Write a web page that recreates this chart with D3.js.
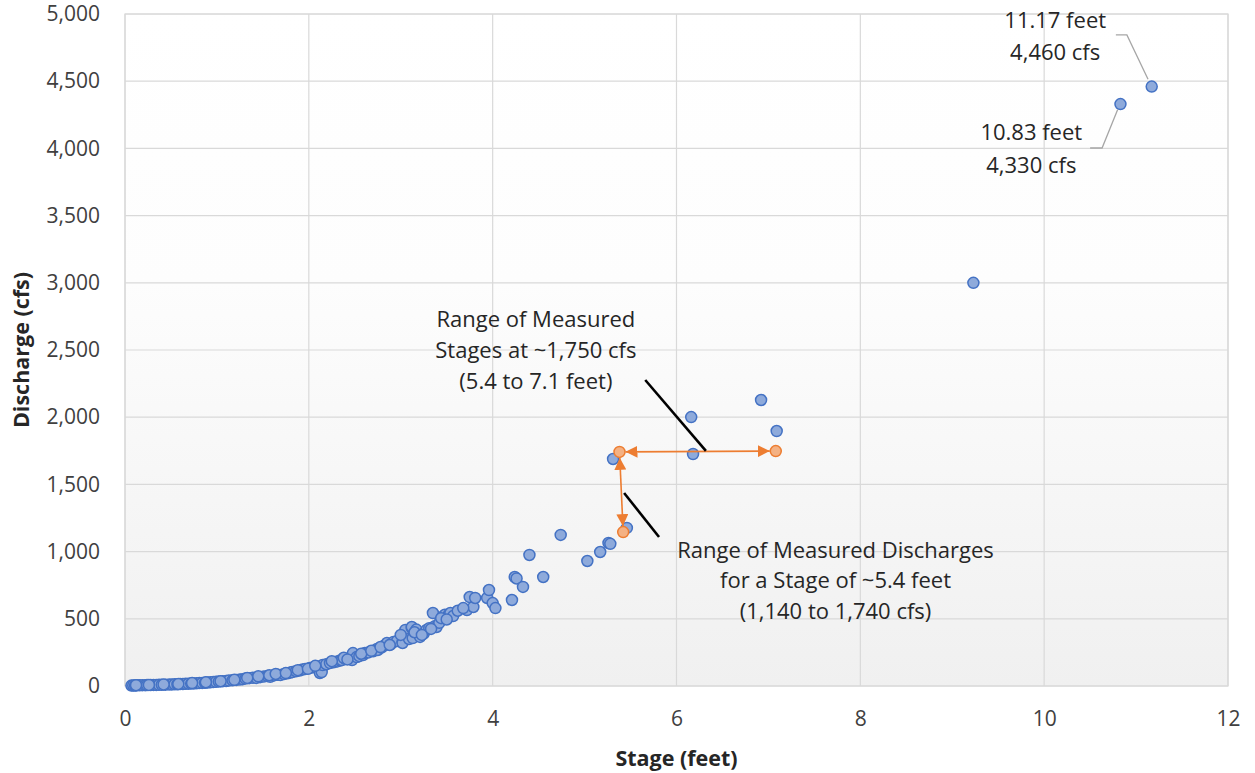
<!DOCTYPE html>
<html><head><meta charset="utf-8">
<script src="https://cdn.jsdelivr.net/npm/d3@7"></script>
<style>body{margin:0;background:#fff}svg{display:block}text{font-family:"Open Sans",sans-serif}</style>
</head><body><svg id="c" width="1255" height="773"></svg>
<script>
const stage = [0.07,0.09,0.11,0.13,0.16,0.19,0.22,0.24,0.28,0.31,0.34,0.37,0.40,0.44,0.48,0.51,0.54,0.57,0.60,0.63,0.66,0.69,0.72,0.75,0.78,0.81,0.84,0.87,0.90,0.93,0.96,0.99,1.02,1.06,1.10,1.13,1.17,1.21,1.25,1.28,1.31,1.35,1.39,1.43,1.47,1.51,1.55,1.58,1.62,1.66,1.69,1.73,1.77,1.80,1.82,1.86,1.90,1.93,1.96,2.01,2.05,2.09,2.12,2.14,2.15,2.19,2.23,2.27,2.31,2.34,2.36,2.40,2.44,2.47,2.48,2.52,2.55,2.59,2.61,2.65,2.70,2.74,2.75,2.79,2.82,2.85,2.89,2.92,2.96,3.02,3.02,3.05,3.05,3.09,3.12,3.12,3.13,3.17,3.21,3.25,3.28,3.31,3.35,3.37,3.39,3.42,3.45,3.48,3.52,3.54,3.57,3.72,3.75,3.79,3.81,3.94,3.96,4.00,4.03,4.21,4.24,4.26,4.33,4.40,4.55,4.74,5.03,5.17,5.26,5.28,5.31,5.46,6.16,6.18,6.92,7.09,9.23,10.83,11.17,
  0.12,0.26,0.42,0.58,0.73,0.88,1.04,1.19,1.33,1.45,1.57,1.64,1.75,1.88,1.99,2.07,2.25,2.38,2.42,2.57,2.68,2.78,2.88,3.00,3.15,3.23,3.33,3.44,3.50,3.62,3.68];
const discharge = [3,4,4,5,5,6,6,7,7,8,8,9,9,10,11,12,13,13,14,15,16,17,18,19,20,22,23,24,26,27,29,31,33,35,37,40,42,45,48,51,55,58,62,60,66,70,74,68,79,84,82,89,95,100,104,110,115,122,126,134,140,146,97,104,156,162,171,176,183,190,193,200,205,193,245,215,222,230,245,250,258,275,268,285,300,320,310,327,335,327,320,402,417,350,431,439,357,420,365,390,417,430,543,445,439,470,513,530,528,543,520,565,662,588,655,655,714,617,580,640,811,800,737,975,811,1124,930,997,1064,1058,1689,1176,2001,1726,2128,1897,3000,4330,4460,
  6,8,12,15,22,28,36,46,60,72,80,90,96,118,128,150,185,210,198,240,262,290,305,380,400,380,425,505,495,560,580];
const rangeStage = [5.38,7.08,5.42];
const rangeDischarge = [1742,1748,1145];
const xTicks = [0,2,4,6,8,10,12];
const yTicks = [0,500,1000,1500,2000,2500,3000,3500,4000,4500,5000];

const svg = d3.select("#c");
const L=125,R=1228,T=14,B=686;
const x = d3.scaleLinear().domain([0,12]).range([L,R]);
const y = d3.scaleLinear().domain([0,5000]).range([B,T]);

const defs = svg.append("defs");
const g = defs.append("linearGradient").attr("id","bg").attr("x1",0).attr("y1",0).attr("x2",0).attr("y2",1);
g.append("stop").attr("offset","0%").attr("stop-color","#ffffff");
g.append("stop").attr("offset","40%").attr("stop-color","#fdfdfd");
g.append("stop").attr("offset","100%").attr("stop-color","#f0f0f0");
defs.append("marker").attr("id","arr").attr("viewBox","0 0 10 10").attr("refX",10).attr("refY",5)
  .attr("markerWidth",7.5).attr("markerHeight",7.5).attr("markerUnits","strokeWidth").attr("orient","auto-start-reverse")
  .append("path").attr("d","M0,0L10,5L0,10Z").attr("fill","#ed7d31");

svg.append("rect").attr("x",L).attr("y",T).attr("width",R-L).attr("height",B-T).attr("fill","url(#bg)");

svg.append("g").selectAll("line").data(yTicks).join("line")
  .attr("x1",L).attr("x2",R).attr("y1",d=>y(d)).attr("y2",d=>y(d)).attr("stroke","#d9d9d9").attr("stroke-width",1.2);
svg.append("g").selectAll("line").data(xTicks).join("line")
  .attr("y1",T).attr("y2",B).attr("x1",d=>x(d)).attr("x2",d=>x(d)).attr("stroke","#d9d9d9").attr("stroke-width",1.2);
svg.append("rect").attr("x",L).attr("y",T).attr("width",R-L).attr("height",B-T).attr("fill","none").attr("stroke","#d9d9d9").attr("stroke-width",1.2);

const yAxis = d3.axisLeft(y).tickValues(yTicks).tickFormat(d3.format(",")).tickSize(0).tickPadding(25);
const ya = svg.append("g").attr("transform",`translate(${L},0)`).call(yAxis);
const xAxis = d3.axisBottom(x).tickValues(xTicks).tickSize(0).tickPadding(25);
const xa = svg.append("g").attr("transform",`translate(0,${B})`).call(xAxis);
[ya,xa].forEach(a=>{a.select(".domain").remove();a.selectAll("text").attr("font-size",21).attr("fill","#404040").attr("font-family","'Open Sans',sans-serif");});

svg.append("text").attr("x",(L+R)/2).attr("y",766).attr("text-anchor","middle").attr("font-size",21.5).attr("font-weight","bold").attr("fill","#262626").text("Stage (feet)");
svg.append("text").attr("transform",`translate(29,${(T+B)/2}) rotate(-90)`).attr("text-anchor","middle").attr("font-size",21.5).attr("font-weight","bold").attr("fill","#262626").text("Discharge (cfs)");

const pts = stage.map((s,i)=>[s,discharge[i]]);
svg.append("g").selectAll("circle").data(pts).join("circle")
  .attr("cx",d=>x(d[0])).attr("cy",d=>y(d[1])).attr("r",5.5)
  .attr("fill","#8eaadb").attr("stroke","#4472c4").attr("stroke-width",1.5);

const rp = rangeStage.map((s,i)=>[x(s),y(rangeDischarge[i])]);
function arrow(a,b){
  const dx=b[0]-a[0],dy=b[1]-a[1],len=Math.hypot(dx,dy),ux=dx/len,uy=dy/len,off=6;
  svg.append("line").attr("x1",a[0]+ux*off).attr("y1",a[1]+uy*off).attr("x2",b[0]-ux*off).attr("y2",b[1]-uy*off)
    .attr("stroke","#ed7d31").attr("stroke-width",1.6).attr("marker-start","url(#arr)").attr("marker-end","url(#arr)");
}
arrow(rp[0],rp[1]);
arrow(rp[0],rp[2]);
svg.append("g").selectAll("circle").data(rp).join("circle")
  .attr("cx",d=>d[0]).attr("cy",d=>d[1]).attr("r",5.5)
  .attr("fill","#f4b183").attr("stroke","#ed7d31").attr("stroke-width",1.5);

const line = d3.line().x(d=>x(d[0])).y(d=>y(d[1]));
svg.append("path").attr("d",line([[5.66,2277],[6.32,1749]])).attr("stroke","#000").attr("stroke-width",2.6).attr("fill","none");
svg.append("path").attr("d",line([[5.43,1436],[5.81,1109]])).attr("stroke","#000").attr("stroke-width",2.6).attr("fill","none");
svg.append("path").attr("d",line([[10.78,4844],[10.90,4844],[11.13,4515]])).attr("stroke","#a6a6a6").attr("stroke-width",1.3).attr("fill","none");
svg.append("path").attr("d",line([[10.80,4290],[10.63,4003],[10.50,4003]])).attr("stroke","#a6a6a6").attr("stroke-width",1.3).attr("fill","none");

function label(cx,lines,fs){
  lines.forEach(([t,q])=>svg.append("text").attr("x",x(cx)).attr("y",y(q)).attr("text-anchor","middle")
    .attr("font-size",fs).attr("fill","#262626").text(t));
}
label(10.12,[["11.17 feet",4896],["4,460 cfs",4658]],22);
label(9.86,[["10.83 feet",4062],["4,330 cfs",3817]],22);
label(4.47,[["Range of Measured",2671],["Stages at ~1,750 cfs",2440],["(5.4 to 7.1 feet)",2210]],22);
label(7.73,[["Range of Measured Discharges",952],["for a Stage of ~5.4 feet",729],["(1,140 to 1,740 cfs)",499]],22);
</script></body></html>
